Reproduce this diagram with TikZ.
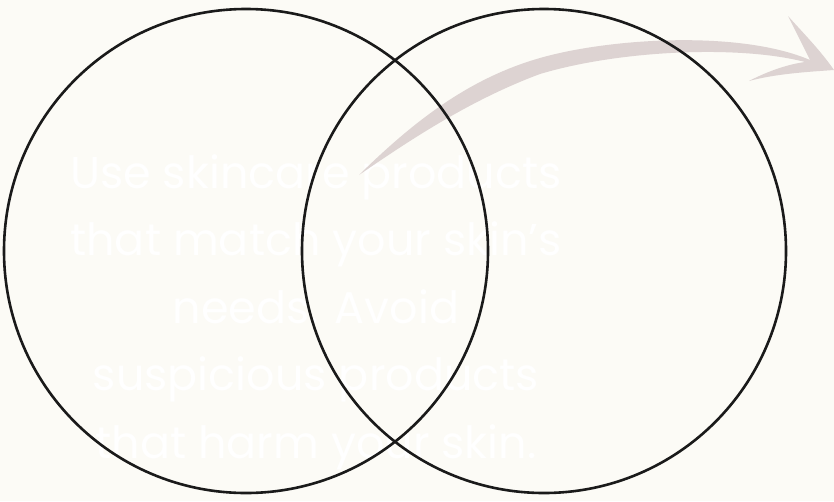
\documentclass[tikz,border=0pt]{standalone}
\usepackage{fontspec}
\setmainfont{Poppins}
\definecolor{bg}{HTML}{FCFBF6}
\definecolor{ink}{HTML}{1A1A1A}
\definecolor{brush}{HTML}{DDD3D2}
\begin{document}
\begin{tikzpicture}[x=1pt,y=-1pt,
  ring/.style={draw=ink,line width=2.6pt},
  txt/.style={text=white,font=\fontsize{44.5}{67.5}\selectfont,anchor=base,inner sep=0pt}]
\fill[bg] (0,0) rectangle (834,501);
\useasboundingbox (0,0) rectangle (834,501);
% text
\node[txt] (l1) at (316,188) {Use skincare products};
\node[txt] (l2) at (316,255) {that match your skin's};
\node[txt] (l3) at (316,323) {needs. Avoid};
\node[txt] (l4) at (316,390) {suspicious products};
\node[txt] (l5) at (316,458) {that harm your skin.};
% brush arrow
\fill[brush] (359,175)
  .. controls (415,120) and (470,78) .. (540,58)
  .. controls (610,38) and (740,30) .. (810,60)
  -- (788,16)
  .. controls (805,35) and (820,50) .. (834,70)
  .. controls (805,72) and (775,74) .. (749,81)
  .. controls (770,70) and (790,64) .. (805,62)
  .. controls (740,45) and (620,50) .. (540,74)
  .. controls (470,100) and (410,140) .. (359,175) -- cycle;
% circles
\draw[ring] (246,251) circle (242pt);
\draw[ring] (544,251) circle (242pt);
\end{tikzpicture}
\end{document}
